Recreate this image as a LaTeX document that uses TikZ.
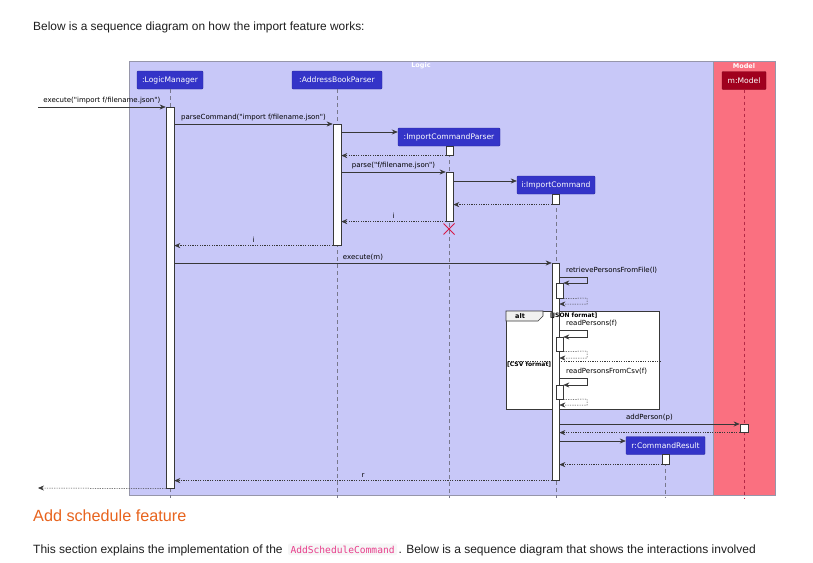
\documentclass[tikz,border=0pt]{standalone}
\usepackage{fontspec}
\setmainfont{Liberation Sans}
\newfontfamily\dvs{DejaVu Sans}
\newfontfamily\dvsmono{DejaVu Sans Mono}
\usetikzlibrary{arrows.meta}
\definecolor{logicbg}{RGB}{200,200,248}
\definecolor{modelbg}{RGB}{250,112,128}
\definecolor{boxborder}{RGB}{150,150,170}
\definecolor{partblue}{RGB}{52,52,200}
\definecolor{partborder}{RGB}{40,40,160}
\definecolor{modelpart}{RGB}{160,0,30}
\definecolor{lineclr}{RGB}{56,56,56}
\definecolor{lifeclr}{RGB}{120,120,140}
\definecolor{modellife}{RGB}{180,40,70}
\definecolor{destroyclr}{RGB}{215,25,70}
\definecolor{headclr}{RGB}{232,100,30}
\definecolor{codeclr}{RGB}{232,62,140}
\definecolor{codebg}{RGB}{246,246,246}
\definecolor{bodytext}{RGB}{30,30,30}
\tikzset{
  part/.style={rectangle, fill=partblue, draw=partborder, line width=0.4pt, text=white,
    font=\dvs\fontsize{7.6}{9}\selectfont, rounded corners=1pt, inner sep=0pt, minimum height=18pt},
  act/.style={rectangle, draw=lineclr, fill=white, line width=0.6pt, inner sep=0pt, anchor=north},
  life/.style={draw=lifeclr, line width=0.5pt, dash pattern=on 4pt off 3pt},
  msg/.style={draw=lineclr, line width=0.6pt, -{Stealth[length=6pt,width=5pt,inset=2pt]}},
  ret/.style={draw=lineclr, line width=0.5pt, dash pattern=on 1.2pt off 1.2pt, -{Stealth[length=6pt,width=5pt,inset=2pt]}},
  lbl/.style={font=\dvs\fontsize{7}{8}\selectfont, text=black, inner sep=0pt},
  guard/.style={font=\dvs\bfseries\fontsize{6}{7}\selectfont, text=black, inner sep=0pt, anchor=west},
  boxlbl/.style={font=\dvs\bfseries\fontsize{6.5}{7}\selectfont, text=white, inner sep=0pt},
  body/.style={inner sep=0pt, font=\fontsize{12}{14}\selectfont, text=bodytext},
}
\begin{document}
\begin{tikzpicture}[x=1pt,y=-1pt]
\useasboundingbox (0,0) rectangle (813,562);
\fill[white] (0,0) rectangle (813,562);

% body text
\node[body, anchor=west, font=\fontsize{11.9}{13}\selectfont] (intro) at (33,27)
  {Below is a sequence diagram on how the import feature works:};

% boxes
\node[draw=boxborder, fill=logicbg, line width=0.8pt, anchor=north west, inner sep=0pt,
  minimum width=584pt, minimum height=434pt] (logic) at (129,61) {};
\node[draw=boxborder, fill=modelbg, line width=0.8pt, anchor=north west, inner sep=0pt,
  minimum width=62pt, minimum height=434pt] (model) at (713,61) {};
\node[boxlbl] (logiclbl) at (421,66) {Logic};
\node[boxlbl] (modellbl) at (744,66) {Model};

% participants
\node[part, minimum width=66pt] (lm) at (170,80) {:LogicManager};
\node[part, minimum width=90pt] (abp) at (337,80) {:AddressBookParser};
\node[part, minimum width=102pt] (icp) at (449,137) {:ImportCommandParser};
\node[part, minimum width=78pt] (ic) at (556,185) {i:ImportCommand};
\node[part, minimum width=79pt] (cr) at (665.5,445.5) {r:CommandResult};
\node[part, minimum width=44pt, fill=modelpart, draw=modelpart!80!black] (mm) at (744,80.5) {m:Model};

% lifelines
\coordinate (lmEnd) at (170,498);
\coordinate (abpEnd) at (337,498);
\coordinate (icpEnd) at (449,498);
\coordinate (icEnd) at (556,498);
\coordinate (crEnd) at (665.5,498);
\coordinate (mmEnd) at (744,498);
\draw[life] (lm.south) -- (lmEnd);
\draw[life] (abp.south) -- (abpEnd);
\draw[life] (icp.south) -- (icpEnd);
\draw[life] (ic.south) -- (icEnd);
\draw[life] (cr.south) -- (crEnd);
\draw[draw=modellife, line width=1pt, dash pattern=on 3pt off 3pt] (mm.south) -- (mmEnd);

% alt frame
\node[draw=lineclr, fill=white, line width=0.8pt, anchor=north west, inner sep=0pt,
  minimum width=153pt, minimum height=98pt] (alt) at (506,311) {};
\filldraw[draw=lineclr, fill=white!94!black, line width=0.6pt] (alt.north west) -- (543,311) -- (543,316) -- (538,321) -- (506,321) -- cycle;
\node[font=\dvs\bfseries\fontsize{6.5}{7}\selectfont, inner sep=0pt] (altlbl) at (520,316) {alt};
\draw[draw=lineclr, line width=0.5pt, dash pattern=on 1.2pt off 1.2pt] (alt.west |- 0,361) -- (alt.east |- 0,361);

% activations
\node[act, minimum width=8pt, minimum height=381pt] (lmA) at (170,107) {};
\node[act, minimum width=8pt, minimum height=121pt] (abpA) at (337,124) {};
\node[act, minimum width=7pt, minimum height=9pt] (icpA1) at (449.5,146) {};
\node[act, minimum width=7pt, minimum height=49pt] (icpA2) at (449.5,172) {};
\node[act, minimum width=7pt, minimum height=10pt] (icA1) at (555.5,194) {};
\node[act, minimum width=7pt, minimum height=217pt] (icA2) at (555.5,263) {};
\node[act, minimum width=7pt, minimum height=15pt] (icA3) at (559.5,283) {};
\node[act, minimum width=7pt, minimum height=14pt] (icA4) at (559.5,337) {};
\node[act, minimum width=7pt, minimum height=14pt] (icA5) at (559.5,385) {};
\node[act, minimum width=8pt, minimum height=8pt] (mA) at (744,424) {};
\node[act, minimum width=7pt, minimum height=10pt] (crA) at (665.5,454) {};

% guards (on top of activation bar, as in the reference)
\node[guard] (g1) at (550,316) {[JSON format]};
\node[guard] (g2) at (507,364.5) {[CSV format]};

% messages
\coordinate (ext1) at (38,107);
\coordinate (ext2) at (38,488);
\draw[msg] (ext1) -- node[lbl, above=2.5pt] {execute("import f/filename.json")} (lmA.north west);
\draw[msg] (lmA.east |- abpA.north) -- node[lbl, above=2.5pt] {parseCommand("import f/filename.json")} (abpA.north west);
\draw[msg, line width=0.8pt] (abpA.east |- 0,132) -- (icp.west |- 0,132);
\draw[ret] (icpA1.south west) -- (abpA.east |- icpA1.south);
\draw[msg] (abpA.east |- icpA2.north) -- node[lbl, above=2.5pt] {parse("f/filename.json")} (icpA2.north west);
\draw[msg] (icpA2.east |- 0,181) -- (ic.west |- 0,181);
\draw[ret] (icA1.south west) -- (icpA2.east |- icA1.south);
\draw[ret] (icpA2.south west) -- node[lbl, above=2.5pt] {i} (abpA.east |- icpA2.south);
\draw[draw=destroyclr, line width=1pt] (443.5,223.5) -- (454.5,234.5) (443.5,234.5) -- (454.5,223.5);
\draw[ret] (abpA.south west) -- node[lbl, above=2.5pt] {i} (lmA.east |- abpA.south);
\draw[msg] (lmA.east |- icA2.north) -- node[lbl, above=2.5pt] {execute(m)} (icA2.north west);

% self call retrievePersonsFromFile
\draw[msg] (icA2.east |- 0,277) -- (587,277) -- (587,283) -- (icA3.north east);
\node[lbl, anchor=south west] (rl1) at (566,273.5) {retrievePersonsFromFile(l)};
\draw[ret] (icA3.south east) -- (587,298) -- (587,304) -- (icA2.east |- 0,304);

% readPersons
\draw[msg] (icA2.east |- 0,330) -- (587,330) -- (587,337) -- (icA4.north east);
\node[lbl, anchor=south west] (rl2) at (566,327) {readPersons(f)};
\draw[ret] (icA4.south east) -- (587,351) -- (587,358) -- (icA2.east |- 0,358);

% readPersonsFromCsv
\draw[msg] (icA2.east |- 0,378) -- (587,378) -- (587,385) -- (icA5.north east);
\node[lbl, anchor=south west] (rl3) at (566,375) {readPersonsFromCsv(f)};
\draw[ret] (icA5.south east) -- (587,399) -- (587,405) -- (icA2.east |- 0,405);

% addPerson
\draw[msg] (icA2.east |- mA.north) -- node[lbl, above=2.5pt] {addPerson(p)} (mA.north west);
\draw[ret] (mA.south west) -- (icA2.east |- mA.south);
\draw[msg] (icA2.east |- 0,441) -- (cr.west |- 0,441);
\draw[ret] (crA.south west) -- (icA2.east |- crA.south);
\draw[ret] (icA2.south west) -- node[lbl, above=2.5pt] {r} (lmA.east |- icA2.south);
\draw[ret] (lmA.south west) -- (ext2);

% following text
\node[anchor=west, inner sep=0pt, font=\fontsize{16.2}{19}\selectfont, text=headclr] (head) at (33,516)
  {Add schedule feature};
\node[body, anchor=base west] (para1) at (33,553)
  {This section explains the implementation of the};
\node[anchor=base west, fill=codebg, rounded corners=2pt, inner xsep=2.5pt, inner ysep=2pt,
  text=codeclr, font=\dvsmono\fontsize{9.6}{11}\selectfont] (code) at ([xshift=5pt]para1.base east) {AddScheduleCommand};
\node[body, anchor=base west] (para2) at ([xshift=1pt]code.base east)
  {. Below is a sequence diagram that shows the interactions involved};
\end{tikzpicture}
\end{document}
